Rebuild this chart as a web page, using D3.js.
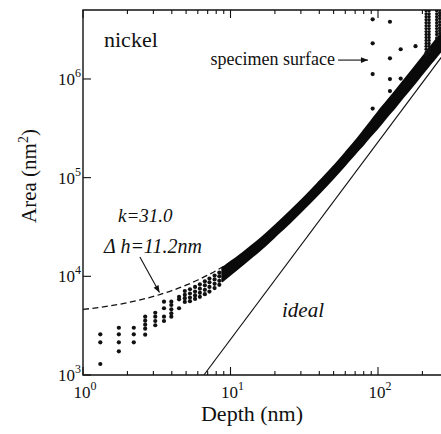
<!DOCTYPE html>
<html><head><meta charset="utf-8">
<script src="https://cdn.jsdelivr.net/npm/d3@7"></script>
<style>body{margin:0;background:#fff}svg{display:block}text{font-family:"Liberation Serif","Times New Roman",serif;fill:#111}</style>
</head><body><svg id="c" width="441" height="434"></svg>
<script>
// ---- data ----
const xMajor = [1, 10, 100];
const xMinor = [2,3,4,5,6,7,8,9,20,30,40,50,60,70,80,90,200,300];
const yMajor = [1e3, 1e4, 1e5, 1e6];
const xTickExp = ["0","1","2"];
const yTickExp = ["3","4","5","6"];

// discrete indentation points (depth nm, area nm^2)
const dotDepth = [1.31,1.31,1.31, 1.75,1.75,1.75,1.75, 2.21,2.21,2.21,
  2.64,2.64,2.64,2.64,2.64, 3.09,3.09,3.09,3.09, 3.54,3.54,3.54,3.54,
  3.97,3.97,3.97,3.97,3.97, 4.48,4.48,4.48,
  4.90,4.90,4.90,4.90, 5.31,5.31,5.31,5.31, 5.75,5.75,5.75,5.75,
  6.20,6.20,6.20,6.20, 6.70,6.70,6.70,6.70, 7.20,7.20,7.20,7.20,
  7.80,7.80,7.80,7.80, 8.40,8.40,8.40,8.40,
  92,120.5,92,142.5,120.5,179.6,92,120.5,142.5,120.5,92];
const dotArea = [2585,2143,1292, 3013,2585,2143,1738, 3013,2585,2143,
  3900,3550,3235,2945,2560, 4275,3900,3524,3192, 5530,4745,3900,3524,
  5530,5120,4635,4218,3900, 6210,5850,4745,
  5500,6000,6500,7100, 5600,6100,6700,7400, 5900,6400,7000,7800,
  6200,6800,7500,8300, 6600,7300,8100,8900, 7000,7800,8700,9500,
  7600,8400,9300,10200, 8200,9000,10000,10900,
  4.02e6,3.80e6,2.30e6,2.0e6,1.62e6,2.15e6,1.12e6,998000,1.01e6,754000,501000];

// dense band of data (lower / upper envelope)
const bandDepth = [8.8,10,12,14,17,20,25,32,40,50,60,70,80,90,100,115,130,150,175,200,230,260,290];
const bandLow  = [8930,10450,13010,15750,20210,25350,34530,49750,69890,99850,135150,175800,219200,269900,322000,414700,513000,668600,881300,1133900,1460800,1824000,2250000];
const bandHigh = [12150,13930,17020,20470,26130,32590,44690,64220,91020,130000,177600,233000,299100,374600,460000,592400,741700,966600,1289800,1659400,2164200,2736000,3375000];

// vertical streaks near the specimen surface
const streakDepth = [212,222,250,262];
const streakArea = [
  [1.74e6,1.86e6,2.0e6,2.14e6,2.29e6,2.46e6,2.63e6,2.82e6,3.02e6,3.24e6,3.47e6,3.72e6,3.98e6,4.27e6,4.57e6,4.9e6],
  [1.9e6,2.0e6,2.14e6,2.29e6,2.46e6,2.63e6,2.82e6,3.02e6,3.24e6,3.47e6,3.72e6,3.98e6,4.27e6,4.57e6,4.9e6],
  [2.6e6,2.82e6,3.02e6,3.24e6,3.47e6,3.72e6,3.98e6,4.27e6,4.57e6,4.9e6],
  [2.9e6,3.1e6,3.3e6,3.55e6,3.8e6,4.1e6,4.4e6,4.7e6,5.0e6]];

// fitted curve k=31.0, dh=11.2nm
const fitDepth = [1,1.5,2,3,4,5,6,7,8,10,15,20,30,50,100,200,300];
const fitArea = [4614,5000,5401,6251,7162,8136,9171,10268,11428,13932,21280,30176,52621,116110,383330,1382800,3002000];

// ideal tip
const idealDepth = [6.6, 300];
const idealArea = [1000, 2066000];

// annotation arrows
const fitArrowDepth = [2.43, 3.30];
const fitArrowArea = [15690, 6855];
const surfArrowDepth = [53.6, 85.5];
const surfArrowArea = [1.554e6, 1.554e6];

// ---- drawing ----
const svg = d3.select("#c");
const L = 83, T = 10, B = 375, R = 460;
const x = d3.scaleLog().domain([1,100]).range([L,378]);
const y = d3.scaleLog().domain([1e3,5e6]).range([B,T]);

const defs = svg.append("defs");
defs.append("clipPath").attr("id","clip").append("rect").attr("x",L).attr("y",T).attr("width",R-L).attr("height",B-T);
defs.append("marker").attr("id","ah").attr("viewBox","0 0 10 10").attr("refX",10).attr("refY",5)
  .attr("markerWidth",9).attr("markerHeight",7).attr("markerUnits","userSpaceOnUse").attr("orient","auto")
  .append("path").attr("d","M0,1 L10,5 L0,9 Z").attr("fill","#111");

const g = svg.append("g").attr("clip-path","url(#clip)");

// ideal line
g.append("path").datum(d3.zip(idealDepth, idealArea))
  .attr("d", d3.line().x(d=>x(d[0])).y(d=>y(d[1])))
  .attr("fill","none").attr("stroke","#111").attr("stroke-width",1.1);

// fit dashed
g.append("path").datum(d3.zip(fitDepth, fitArea))
  .attr("d", d3.line().curve(d3.curveMonotoneX).x(d=>x(d[0])).y(d=>y(d[1])))
  .attr("fill","none").attr("stroke","#111").attr("stroke-width",1.3).attr("stroke-dasharray","6,3.5");

// band
const bandData = bandDepth.map((d,i)=>[d,bandLow[i],bandHigh[i]]);
g.append("path").datum(bandData)
  .attr("d", d3.area().curve(d3.curveMonotoneX).x(d=>x(d[0])).y0(d=>y(d[1])).y1(d=>y(d[2])))
  .attr("fill","#0a0a0a").attr("stroke","#0a0a0a").attr("stroke-width",2).attr("stroke-linejoin","round");

// dots
g.selectAll("circle.d").data(d3.zip(dotDepth, dotArea)).join("circle").attr("class","d")
  .attr("cx",d=>x(d[0])).attr("cy",d=>y(d[1])).attr("r",2.1).attr("fill","#111");

// streaks
streakDepth.forEach((h,i)=>{
  g.selectAll(null).data(streakArea[i]).join("circle")
   .attr("cx",x(h)).attr("cy",d=>y(d)).attr("r",1.7).attr("fill","#111");
});

// frame
const fr = svg.append("g").attr("stroke","#111").attr("stroke-width",1.4).attr("fill","none");
fr.append("path").attr("d",`M${R},${T}H${L}V${B}H${R}`);

// ticks
const tk = svg.append("g").attr("stroke","#111").attr("stroke-width",1.1);
xMajor.forEach(v=>{
  tk.append("line").attr("x1",x(v)).attr("x2",x(v)).attr("y1",B).attr("y2",B-8);
  tk.append("line").attr("x1",x(v)).attr("x2",x(v)).attr("y1",T).attr("y2",T+8);
});
xMinor.forEach(v=>{
  tk.append("line").attr("x1",x(v)).attr("x2",x(v)).attr("y1",B).attr("y2",B-4);
  tk.append("line").attr("x1",x(v)).attr("x2",x(v)).attr("y1",T).attr("y2",T+4);
});
yMajor.forEach(v=>{
  tk.append("line").attr("x1",L).attr("x2",L+8).attr("y1",y(v)).attr("y2",y(v));
});

// tick labels
xMajor.forEach((v,i)=>{
  const t = svg.append("text").attr("x",x(v)+2).attr("y",398).attr("text-anchor","middle").attr("font-size",17);
  t.append("tspan").text("10");
  t.append("tspan").attr("dy",-8).attr("font-size",12).text(xTickExp[i]);
});
yMajor.forEach((v,i)=>{
  const t = svg.append("text").attr("x",81).attr("y",y(v)+6).attr("text-anchor","end").attr("font-size",17);
  t.append("tspan").text("10");
  t.append("tspan").attr("dy",-8).attr("font-size",12).text(yTickExp[i]);
});

// axis titles
svg.append("text").attr("x",252).attr("y",421).attr("text-anchor","middle").attr("font-size",22).text("Depth (nm)");
const yt = svg.append("text").attr("transform","translate(36,176) rotate(-90)").attr("text-anchor","middle").attr("font-size",21);
yt.append("tspan").text("Area (nm");
yt.append("tspan").attr("dy",-8).attr("font-size",14).text("2");
yt.append("tspan").attr("dy",8).text(")");

// annotations
svg.append("text").attr("x",104).attr("y",47).attr("font-size",22).text("nickel");
svg.append("text").attr("x",335).attr("y",65).attr("text-anchor","end").attr("font-size",18).text("specimen surface");
svg.append("line").attr("x1",x(surfArrowDepth[0])).attr("y1",y(surfArrowArea[0]))
  .attr("x2",x(surfArrowDepth[1])).attr("y2",y(surfArrowArea[1]))
  .attr("stroke","#111").attr("stroke-width",1.1).attr("marker-end","url(#ah)");

svg.append("text").attr("x",118).attr("y",222).attr("font-size",19).attr("font-style","italic").text("k=31.0");
svg.append("text").attr("x",104).attr("y",253).attr("font-size",20).attr("font-style","italic").text("Δ h=11.2nm");
svg.append("line").attr("x1",x(fitArrowDepth[0])).attr("y1",y(fitArrowArea[0]))
  .attr("x2",x(fitArrowDepth[1])).attr("y2",y(fitArrowArea[1]))
  .attr("stroke","#111").attr("stroke-width",1.1).attr("marker-end","url(#ah)");

svg.append("text").attr("x",282).attr("y",317).attr("font-size",21).attr("font-style","italic").text("ideal");
</script></body></html>
